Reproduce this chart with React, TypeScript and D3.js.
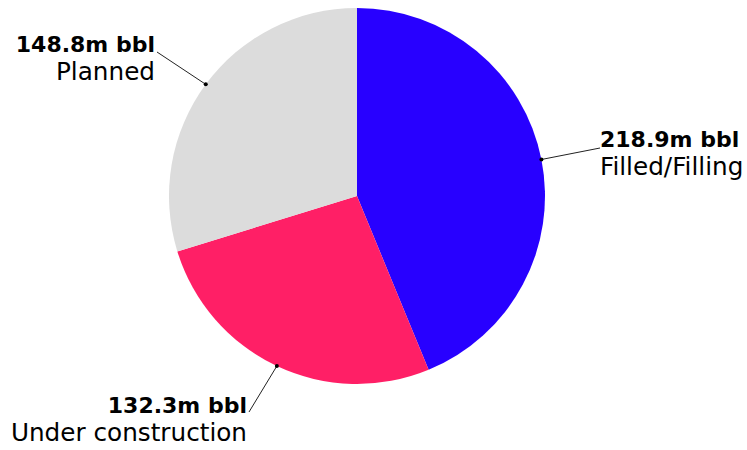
import React from "react";
import * as d3 from "d3";

const categories = ["Filled/Filling", "Under construction", "Planned"];
const values = [218.9, 132.3, 148.8];
const valueLabels = ["218.9m bbl", "132.3m bbl", "148.8m bbl"];
const colors = ["#2800ff", "#ff1f66", "#dcdcdc"];

const W = 747;
const H = 450;
const cx = 357;
const cy = 196;
const R = 188;

const labelLayout = [
  { x: 600, y: 147, anchor: "start", lx: 600, ly: 148 },
  { x: 247, y: 413, anchor: "end", lx: 249, ly: 412 },
  { x: 155, y: 52, anchor: "end", lx: 157, ly: 52 },
];

export default function App() {
  const pie = d3
    .pie<number>()
    .sort(null)
    .value((d) => d)
    .startAngle(0)
    .endAngle(2 * Math.PI);
  const arcs = pie(values);
  const arc = d3.arc<d3.PieArcDatum<number>>().innerRadius(0).outerRadius(R);
  const font = "'DejaVu Sans', sans-serif";
  return (
    <svg
      width={W}
      height={H}
      style={{ position: "absolute", left: 0, top: 0, background: "#fff" }}
    >
      <g transform={`translate(${cx},${cy})`}>
        {arcs.map((a, i) => (
          <path key={i} d={arc(a) || ""} fill={colors[i]} />
        ))}
      </g>
      {arcs.map((a, i) => {
        const mid = (a.startAngle + a.endAngle) / 2;
        const px = cx + R * Math.sin(mid);
        const py = cy - R * Math.cos(mid);
        const L = labelLayout[i];
        return (
          <g key={i}>
            <line x1={L.lx} y1={L.ly} x2={px} y2={py} stroke="#222" strokeWidth={1} />
            <circle cx={px} cy={py} r={2} fill="#000" />
            <text
              x={L.x}
              y={L.y}
              textAnchor={L.anchor as any}
              fontFamily={font}
              fontWeight="bold"
              fontSize={22}
              fill="#000"
            >
              {valueLabels[i]}
            </text>
            <text
              x={L.x}
              y={L.y + 28}
              textAnchor={L.anchor as any}
              fontFamily={font}
              fontSize={24.7}
              fill="#000"
            >
              {categories[i]}
            </text>
          </g>
        );
      })}
    </svg>
  );
}
